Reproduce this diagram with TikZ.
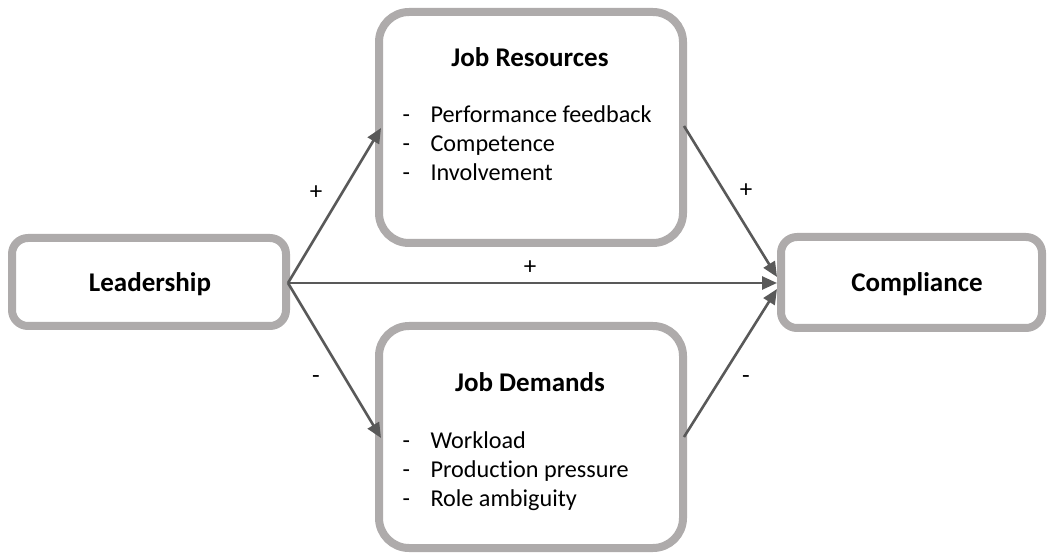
\documentclass[tikz,border=0pt]{standalone}
\usepackage{fontspec}
\setmainfont[Ligatures=NoCommon]{Carlito}
\usetikzlibrary{arrows.meta}
\definecolor{boxgray}{HTML}{AEABAB}
\definecolor{arrowgray}{HTML}{595959}
\begin{document}
\begin{tikzpicture}[x=1pt,y=-1pt,
  boxstyle/.style={draw=boxgray,line width=8pt,fill=white},
  link/.style={draw=arrowgray,line width=2.6pt,-{Triangle[length=15pt,width=13pt]}},
  title/.style={font=\fontsize{27}{32}\selectfont\bfseries},
  item/.style={font=\fontsize{24.2}{29}\selectfont,anchor=base west},
  sign/.style={font=\fontsize{25}{30}\selectfont}]
\useasboundingbox (0,0) rectangle (1047,553);
% boxes
\draw[boxstyle,rounded corners=16pt] (12,238) rectangle (286,326);
\draw[boxstyle,rounded corners=30pt] (379,12) rectangle (683,243);
\draw[boxstyle,rounded corners=30pt] (379,326) rectangle (683,548);
\draw[boxstyle,rounded corners=16pt] (781,237) rectangle (1042,328);
% box texts
\node[title] (lead) at (150,284) {Leadership};
\node[title] (comp) at (917,284) {Compliance};
\node[title] (resT) at (530,57) {Job Resources};
\node[title] (demT) at (530,382) {Job Demands};
\foreach \t [count=\i] in {Performance feedback,Competence,Involvement}{
  \node[item] (r\i) at (427,{115+(\i-1)*29+8}) {\t};
  \node[item] (rd\i) at (399,{115+(\i-1)*29+8}) {-};
}
\foreach \t [count=\i] in {Workload,Production pressure,Role ambiguity}{
  \node[item] (d\i) at (427,{440+(\i-1)*29+8}) {\t};
  \node[item] (dd\i) at (399,{440+(\i-1)*29+8}) {-};
}
% connection points
\coordinate (lo) at (288,283);
\coordinate (resIn) at (381,128);
\coordinate (demIn) at (381,438);
\coordinate (compIn) at (777,283);
\coordinate (compInTop) at (777,277);
\coordinate (compInBot) at (777,289);
\coordinate (resOut) at (684,126);
\coordinate (demOut) at (684,437);
% connectors
\draw[link] (lo) -- (resIn);
\draw[link] (lo) -- (demIn);
\draw[link] (lo) -- (compIn);
\draw[link] (resOut) -- (compInTop);
\draw[link] (demOut) -- (compInBot);
% signs
\node[sign] (s1) at (316,193) {+};
\node[sign] (s2) at (316,380) {-};
\node[sign] (s3) at (530,268) {+};
\node[sign] (s4) at (746,191) {+};
\node[sign] (s5) at (746,380) {-};
\end{tikzpicture}
\end{document}
